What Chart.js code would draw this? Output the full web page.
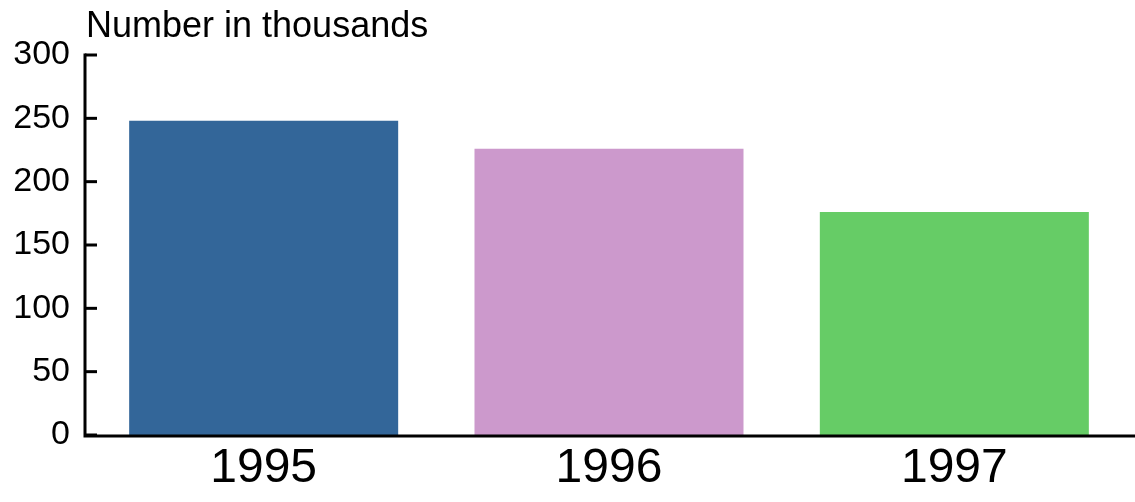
<!DOCTYPE html>
<html>
<head>
<meta charset="utf-8">
<script src="https://cdn.jsdelivr.net/npm/chart.js@4"></script>
<style>
  html, body { margin: 0; padding: 0; background: #fff; }
  #grafico { display: block; }
</style>
</head>
<body>
<canvas id="grafico" width="1135" height="502"></canvas>
<script>
const anos = ['1995', '1996', '1997'];
const valores = [248, 226, 176];
const cores = ['#336699', '#CC99CC', '#66CC66'];
const yTicks = [0, 50, 100, 150, 200, 250, 300];
const tituloEixo = 'Number in thousands';

// eixos desenhados a mao: tracos para dentro e linha x ate a borda
const eixos = {
  id: 'eixos',
  afterDraw(chart) {
    const c = chart.ctx;
    const y = chart.scales.y;
    const area = chart.chartArea;
    const ax = area.left - 6;
    c.save();
    c.strokeStyle = '#000';
    c.lineWidth = 3;
    c.beginPath();
    c.moveTo(ax, y.getPixelForValue(300) - 1.5);
    c.lineTo(ax, area.bottom + 1.5);
    c.moveTo(ax - 1.5, area.bottom + 1);
    c.lineTo(chart.width, area.bottom + 1);
    c.stroke();
    yTicks.forEach(v => {
      const py = y.getPixelForValue(v);
      c.beginPath();
      c.moveTo(ax, py);
      c.lineTo(ax + 12, py);
      c.stroke();
    });
    c.fillStyle = '#000';
    c.font = '36px "Liberation Sans", Arial, sans-serif';
    c.textBaseline = 'middle';
    c.textAlign = 'left';
    c.fillText(tituloEixo, ax + 1, 27);
    c.restore();
  }
};

new Chart(document.getElementById('grafico'), {
  type: 'bar',
  data: {
    labels: anos,
    datasets: [{
      data: valores,
      backgroundColor: cores,
      borderWidth: 0,
      categoryPercentage: 1,
      barPercentage: 0.779
    }]
  },
  options: {
    responsive: false,
    animation: false,
    events: [],
    layout: { padding: { top: 55, right: 8, left: 0, bottom: 0 } },
    plugins: { legend: { display: false }, tooltip: { enabled: false } },
    scales: {
      x: {
        grid: { display: false, drawTicks: false },
        border: { display: false },
        ticks: {
          color: '#000',
          padding: 5,
          font: { family: '"Liberation Sans", Arial, sans-serif', size: 48 }
        },
        afterFit(s) { s.height = 67; }
      },
      y: {
        min: 0,
        max: 300,
        grid: { display: false, drawTicks: false },
        border: { display: false },
        afterBuildTicks(s) { s.ticks = yTicks.map(v => ({ value: v })); },
        ticks: {
          color: '#000',
          padding: 21,
          font: { family: '"Liberation Sans", Arial, sans-serif', size: 34 }
        },
        afterFit(s) { s.width = 91; }
      }
    }
  },
  plugins: [eixos]
});
</script>
</body>
</html>
